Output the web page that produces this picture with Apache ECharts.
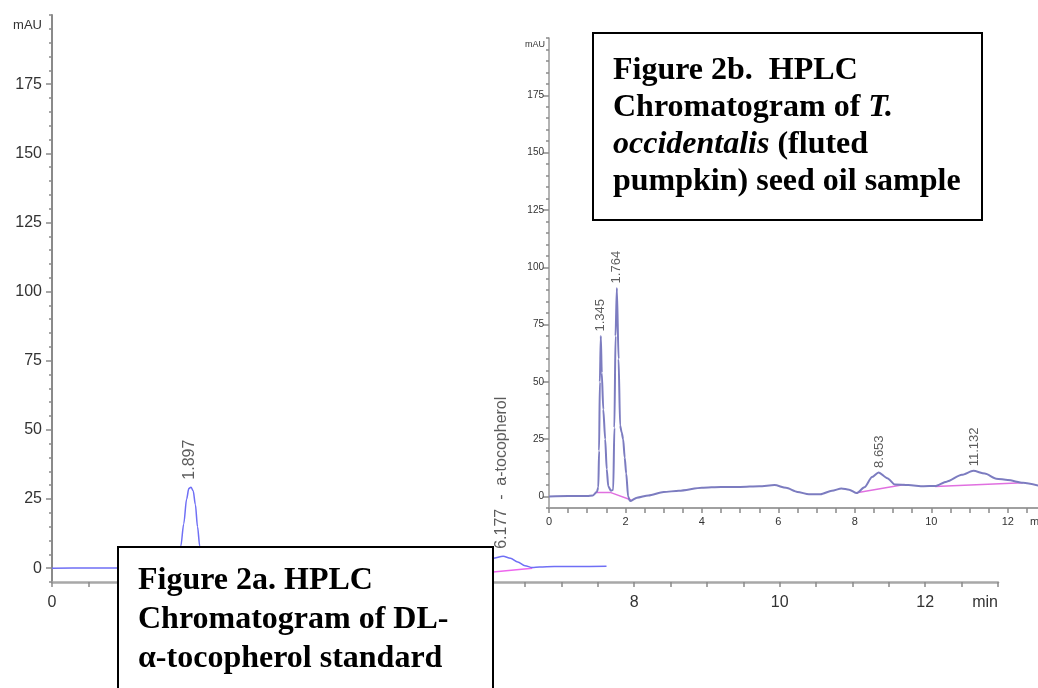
<!DOCTYPE html>
<html><head><meta charset="utf-8">
<script src="https://cdn.jsdelivr.net/npm/echarts@6/dist/echarts.min.js"></script>
<style>html,body{margin:0;padding:0;background:#fff}#c{width:1038px;height:688px}</style>
</head><body><div id="c"></div>
<script>
// ---- Figure 2a: DL-alpha-tocopherol standard ----
const stdTime   = [0, 0.5, 1.0, 1.4, 1.6, 1.68, 1.73, 1.77, 1.81, 1.85, 1.88, 1.91, 1.94, 1.97, 2.0, 2.03, 2.07, 2.12, 2.3, 3, 4, 5, 5.6, 5.8, 5.95, 6.06, 6.2, 6.3, 6.4, 6.5, 6.6, 6.7, 6.9, 7.2, 7.62];
const stdSignal = [0, 0.05, 0.1, 0.2, 0.4, 1.2, 3.5, 8, 16, 25, 28.8, 29.3, 28, 23, 15, 8, 3, 1, 0.3, 0.1, 0.1, 0.1, 0.2, 1, 2.5, 3.6, 4.3, 3.6, 2.2, 0.9, 0.2, 0.4, 0.6, 0.6, 0.7];
const stdBaseTime   = [5.7, 6.6];
const stdBaseSignal = [-2.3, 0];
const stdPeakTime   = [1.897, 6.177];
const stdPeakSignal = [29.3, 4.3];
const stdPeakLabels = ['1.897', '6.177  -  a-tocopherol'];

// ---- Figure 2b: T. occidentalis seed oil ----
const oilTime   = [0, 0.5, 1.0, 1.15, 1.25, 1.29, 1.31, 1.33, 1.355, 1.38, 1.42, 1.47, 1.51, 1.55, 1.62, 1.68, 1.71, 1.74, 1.775, 1.82, 1.86, 1.9, 1.94, 1.98, 2.02, 2.07, 2.12, 2.3, 2.6, 3.0, 3.4, 4.0, 4.5, 5.0, 5.5, 5.9, 6.2, 6.5, 6.8, 7.1, 7.4, 7.65, 7.85, 8.05, 8.25, 8.45, 8.62, 8.85, 9.05, 9.4, 9.8, 10.1, 10.4, 10.8, 11.1, 11.4, 11.7, 12.0, 12.4, 12.8];
const oilSignal = [0, 0.2, 0.2, 0.5, 2, 4, 20, 50, 70, 54, 38, 25, 12, 4.5, 2.5, 3, 30, 70, 91, 60, 31, 28, 25, 17, 10, 0, -2, -0.5, 0.5, 2, 2.5, 3.8, 4.2, 4.2, 4.5, 5, 3.8, 2, 1, 1, 2.5, 3.5, 3, 1.5, 4, 8.5, 10.5, 8, 5.2, 5, 4.5, 4.6, 6.5, 9.5, 11.2, 10, 7.8, 7.2, 6, 4.8];
const oilBaseTime   = [1.2, 1.6, 2.15, 2.2, 8.05, 9.3, 9.5, 10.1, 12.4];
const oilBaseSignal = [1.8, 1.8, -1.5, null, 1.7, 5.2, null, 4.4, 6];
const oilPeakTime   = [1.345, 1.764, 8.653, 11.132];
const oilPeakSignal = [70, 91, 10.5, 11.2];
const oilPeakLabels = ['1.345', '1.764', '8.653', '11.132'];

const yTickValues = [0, 25, 50, 75, 100, 125, 150, 175];

const zip = (t, v) => t.map((x, i) => [x, v[i]]);
const NARROW = '"Liberation Sans Narrow","Arial Narrow","Liberation Sans",Arial,sans-serif';
const SERIF = '"Liberation Serif","Times New Roman",serif';

function xAxisCfg(grid, maxV, fs, margin, nameCfg, col, w, tl) {
  return {
    type: 'value', gridIndex: grid, min: 0, max: maxV, interval: 2, position: 'bottom',
    axisLine: {onZero: false, lineStyle: {color: col, width: w}},
    axisTick: {length: tl, lineStyle: {color: '#8a8a8a', width: 1.5}},
    minorTick: {show: true, splitNumber: 4, length: tl, lineStyle: {color: '#8a8a8a', width: 1.5}},
    axisLabel: {margin: margin, fontSize: fs, fontFamily: NARROW, color: '#333', showMaxLabel: false},
    splitLine: {show: false}, minorSplitLine: {show: false},
    name: 'min', nameLocation: 'end', nameGap: nameCfg.gap,
    nameTextStyle: {align: nameCfg.align, verticalAlign: 'top', padding: [nameCfg.pad, 0, 0, 0], fontSize: fs, fontFamily: NARROW, color: '#333'}
  };
}
function yMinor(grid, col, w, nameSize, nameGap, namePad) {
  return {
    type: 'value', gridIndex: grid, min: -5, max: 200, interval: 5, position: 'left',
    axisLine: {show: true, onZero: false, lineStyle: {color: col, width: w}},
    axisTick: {length: 3, lineStyle: {color: '#8a8a8a', width: 1.5}},
    axisLabel: {show: false}, splitLine: {show: false},
    name: 'mAU', nameLocation: 'end', nameGap: nameGap,
    nameTextStyle: {align: 'right', verticalAlign: 'middle', padding: [0, namePad, 0, 0], fontSize: nameSize, fontFamily: NARROW, color: '#333'}
  };
}
function yMajor(grid, fs, margin) {
  return {
    type: 'value', gridIndex: grid, min: -5, max: 200, position: 'left', offset: 0,
    axisLine: {show: false, onZero: false},
    axisTick: {show: true, customValues: yTickValues, length: 6, lineStyle: {color: '#8a8a8a', width: 1.5}},
    axisLabel: {customValues: yTickValues, margin: margin, fontSize: fs, fontFamily: NARROW, color: '#333'},
    splitLine: {show: false}
  };
}
function peakLabels(xi, yi, t, v, names, fs, dist) {
  return {
    type: 'scatter', xAxisIndex: xi, yAxisIndex: yi, symbolSize: 1, silent: true,
    itemStyle: {color: 'rgba(0,0,0,0)'},
    data: t.map((x, i) => ({value: [x, v[i]], name: names[i]})),
    label: {show: true, formatter: p => p.name, position: 'top', distance: dist, rotate: 90,
      align: 'left', verticalAlign: 'middle', fontSize: fs, fontFamily: '"Liberation Sans",Arial,sans-serif', color: '#333'},
    z: 5
  };
}

const option = {
  animation: false,
  backgroundColor: '#fff',
  grid: [
    {left: 52, top: 15, width: 946, height: 567, outerBoundsMode: 'none', containLabel: false},
    {left: 549, top: 38, width: 497, height: 470, outerBoundsMode: 'none', containLabel: false}
  ],
  xAxis: [
    xAxisCfg(0, 13, 16, 13, {gap: 0, align: 'right', pad: 13}, '#a8a8a8', 2.5, 5),
    xAxisCfg(1, 13, 11, 8, {gap: -16, align: 'left', pad: 8}, '#a0a0a0', 2, 5)
  ],
  yAxis: [
    yMinor(0, '#8a8a8a', 2, 13, -10, 10),
    yMajor(0, 16, 10),
    yMinor(1, '#9a9a9a', 1.5, 9, -7, 4),
    yMajor(1, 10, 5)
  ],
  series: [
    {type: 'line', xAxisIndex: 0, yAxisIndex: 0, data: zip(stdBaseTime, stdBaseSignal), showSymbol: false,
      lineStyle: {color: '#ee66ee', width: 1.5}, z: 2},
    {type: 'line', xAxisIndex: 0, yAxisIndex: 0, data: zip(stdTime, stdSignal), showSymbol: false, smooth: 0.3, smoothMonotone: 'x',
      lineStyle: {color: '#6f6ff5', width: 1.5}, z: 3},
    peakLabels(0, 0, stdPeakTime, stdPeakSignal, stdPeakLabels, 16, 7),
    {type: 'line', xAxisIndex: 1, yAxisIndex: 2, data: zip(oilBaseTime, oilBaseSignal), showSymbol: false, connectNulls: false,
      lineStyle: {color: '#e070e0', width: 1.5}, z: 2},
    {type: 'line', xAxisIndex: 1, yAxisIndex: 2, data: zip(oilTime, oilSignal), showSymbol: false, smooth: 0.25, smoothMonotone: 'x',
      lineStyle: {color: '#7c7cc0', width: 2}, z: 3},
    peakLabels(1, 2, oilPeakTime, oilPeakSignal, oilPeakLabels, 13, 4)
  ],
  graphic: [
    {type: 'rect', z: 100, shape: {x: 118, y: 547, width: 375, height: 160},
      style: {fill: '#fff', stroke: '#000', lineWidth: 2}},
    {type: 'text', z: 101, x: 138, y: 561,
      style: {text: 'Figure 2a. HPLC\nChromatogram of DL-\nα-tocopherol standard',
        fontSize: 32, fontWeight: 'bold', fontFamily: SERIF, lineHeight: 39, fill: '#000', verticalAlign: 'top', align: 'left'}},
    {type: 'rect', z: 100, shape: {x: 593, y: 33, width: 389, height: 187},
      style: {fill: '#fff', stroke: '#000', lineWidth: 2}},
    {type: 'text', z: 101, x: 613, y: 52,
      style: {text: 'Figure 2b.  HPLC\nChromatogram of {i|T.}\n{i|occidentalis} (fluted\npumpkin) seed oil sample',
        fontSize: 32, fontWeight: 'bold', fontFamily: SERIF, lineHeight: 37, fill: '#000', verticalAlign: 'top', align: 'left',
        rich: {i: {fontStyle: 'italic', fontWeight: 'bold', fontSize: 32, fontFamily: SERIF, lineHeight: 37, fill: '#000'}}}}
  ]
};
const chart = echarts.init(document.getElementById('c'), null, {renderer: 'canvas'});
chart.setOption(option);
</script></body></html>
